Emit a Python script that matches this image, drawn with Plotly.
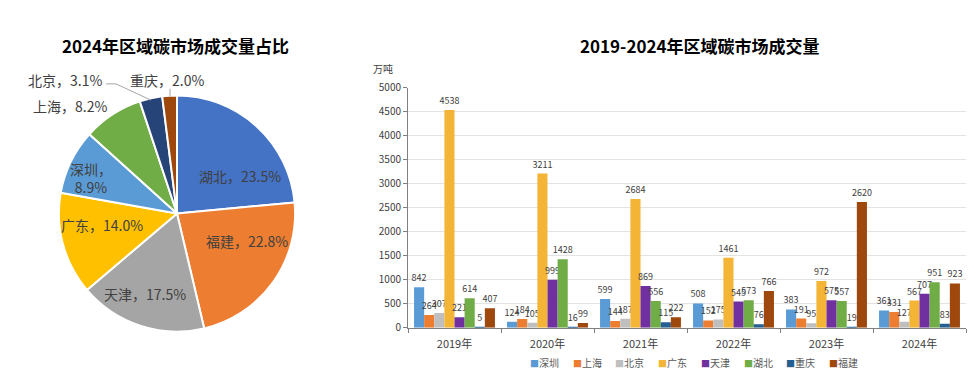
import plotly.graph_objects as go

# ---------------- data ----------------
pie_labels = ["湖北", "福建", "天津", "广东", "深圳", "上海", "北京", "重庆"]
pie_values = [23.5, 22.8, 17.5, 14.0, 8.9, 8.2, 3.1, 2.0]
pie_colors = ["#4472C4", "#ED7D31", "#A5A5A5", "#FFC000", "#5B9BD5", "#70AD47", "#264478", "#9E480E"]

years = ["2019年", "2020年", "2021年", "2022年", "2023年", "2024年"]
regions = ["深圳", "上海", "北京", "广东", "天津", "湖北", "重庆", "福建"]
shenzhen = [842, 124, 599, 508, 383, 361]
shanghai = [264, 184, 144, 152, 191, 331]
beijing = [307, 105, 187, 175, 95, 127]
guangdong = [4538, 3211, 2684, 1461, 972, 567]
tianjin = [221, 999, 869, 545, 575, 707]
hubei = [614, 1428, 556, 573, 557, 951]
chongqing = [5, 16, 115, 76, 19, 83]
fujian = [407, 99, 222, 766, 2620, 923]
bar_series = [shenzhen, shanghai, beijing, guangdong, tianjin, hubei, chongqing, fujian]
bar_colors = ["#5B9BD5", "#ED7D31", "#BFBFBF", "#F4B536", "#7030A0", "#70AD47", "#255E91", "#9E480E"]

W, H = 980, 378
FONT = "Noto Sans CJK SC"


def px(x):
    return x / W


def py(y):
    return 1 - y / H


fig = go.Figure()

# ---------------- pie ----------------
fig.add_trace(go.Pie(
    labels=pie_labels, values=pie_values, sort=False, direction="clockwise", rotation=0,
    marker=dict(colors=pie_colors, line=dict(color="white", width=2)),
    textinfo="none", hoverinfo="label+percent", showlegend=False,
    domain=dict(x=[px(177 - 123), px(177 + 123)], y=[py(214 + 123), py(214 - 123)]),
))

# pie label positions (layout only)
pie_label_pos = [(240, 175), (247, 243), (145, 298), (102, 226), (91, 177), (70, 102), (65, 75), (167, 75)]
annotations = []
for i, (lab, val) in enumerate(zip(pie_labels, pie_values)):
    sep = "，<br>" if lab == "深圳" else "，"
    x, y = pie_label_pos[i]
    annotations.append(dict(
        x=px(x), y=py(y), xref="paper", yref="paper", showarrow=False,
        text=f"{lab}{sep}{val:.1f}%", font=dict(size=14, color="#404040", family=FONT),
        xanchor="center", yanchor="middle",
    ))

shapes = [
    dict(type="path", xref="paper", yref="paper",
         path=f"M {px(106)} {py(79)} L {px(116)} {py(79)} L {px(151)} {py(96)}",
         line=dict(color="#A6A6A6", width=1)),
    dict(type="line", xref="paper", yref="paper",
         x0=px(170), x1=px(170), y0=py(84), y1=py(92),
         line=dict(color="#A6A6A6", width=1)),
]

# ---------------- bars ----------------
for name, vals, col in zip(regions, bar_series, bar_colors):
    fig.add_trace(go.Bar(
        name=name, x=years, y=vals, marker=dict(color=col, line=dict(width=0)),
        text=vals, textposition="outside", cliponaxis=False, constraintext="none",
        textfont=dict(size=9, color="#404040", family=FONT),
        xaxis="x", yaxis="y", showlegend=False,
    ))

# custom compact legend
leg_x0, leg_step = 532, 42.7
for i, (name, col) in enumerate(zip(regions, bar_colors)):
    annotations.append(dict(
        x=px(leg_x0 + i * leg_step - 4), y=py(369), xref="paper", yref="paper", showarrow=False,
        xanchor="left", yanchor="middle",
        text=f"<span style='color:{col};font-size:9px'>■</span>{name}",
        font=dict(size=10, color="#595959", family=FONT),
    ))

# titles
annotations.append(dict(x=px(175), y=py(39), xref="paper", yref="paper", showarrow=False,
                        text="<b>2024年区域碳市场成交量占比</b>", xanchor="center", yanchor="middle",
                        font=dict(size=17, color="#000000", family=FONT)))
annotations.append(dict(x=px(700), y=py(39), xref="paper", yref="paper", showarrow=False,
                        text="<b>2019-2024年区域碳市场成交量</b>", xanchor="center", yanchor="middle",
                        font=dict(size=17, color="#000000", family=FONT)))
annotations.append(dict(x=px(383), y=py(63), xref="paper", yref="paper", showarrow=False,
                        text="万吨", xanchor="center", yanchor="middle",
                        font=dict(size=10, color="#404040", family=FONT)))

fig.update_layout(
    width=W, height=H, margin=dict(l=0, r=0, t=0, b=0),
    paper_bgcolor="white", plot_bgcolor="white",
    font=dict(family=FONT, color="#595959"),
    barmode="group", bargap=0.13, bargroupgap=0,
    xaxis=dict(domain=[px(408), px(966)], showline=True, linecolor="#808080", linewidth=1,
               ticks="outside", tickson="boundaries", ticklen=4, tickcolor="#808080",
               ticklabelstandoff=6,
               tickfont=dict(size=11, color="#404040"), showgrid=False),
    yaxis=dict(domain=[py(333), py(83)], range=[0, 5000], dtick=500, showline=True,
               linecolor="#808080", linewidth=1, ticks="outside", ticklen=4, tickcolor="#808080",
               gridcolor="#E3E3E3", gridwidth=1, tickfont=dict(size=10, color="#404040"),
               zeroline=False),
    annotations=annotations, shapes=shapes,
)

fig.write_html(
    "out.html",
    config={"displayModeBar": False},
    post_script="document.body.style.margin='0';document.body.style.overflow='hidden';window.scrollTo(0,0);",
)
